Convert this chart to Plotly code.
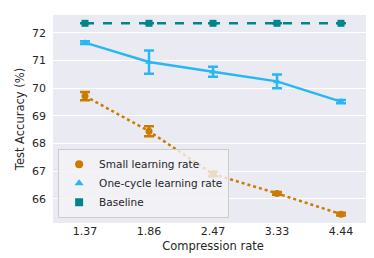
import plotly.graph_objects as go

categories = ["1.37", "1.86", "2.47", "3.33", "4.44"]
small_lr = [69.72, 68.45, 66.9, 66.2, 65.45]
small_lr_err = [0.15, 0.18, 0.08, 0.05, 0.05]
one_cycle = [71.65, 70.95, 70.6, 70.25, 69.52]
one_cycle_err = [0.05, 0.42, 0.18, 0.25, 0.06]
baseline = [72.35, 72.35, 72.35, 72.35, 72.35]
baseline_err = [0.0, 0.0, 0.0, 0.0, 0.0]

C_ORANGE = "#CC7A00"
C_BLUE = "#29B6F6"
C_TEAL = "#00868A"

x = list(range(len(categories)))
fig = go.Figure()

def add_series(y, err, color, dash, symbol, name):
    fig.add_trace(go.Scatter(
        x=x, y=y, mode="lines+markers", showlegend=False,
        line=dict(color=color, width=2.5, dash=dash),
        marker=dict(color=color, size=7, symbol=symbol),
        error_y=dict(type="data", array=err, visible=True, color=color,
                     thickness=2.5, width=5),
    ))
    fig.add_trace(go.Scatter(
        x=[None], y=[None], mode="markers", name=name,
        marker=dict(color=color, size=8, symbol=symbol),
    ))

add_series(baseline, baseline_err, C_TEAL, "dash", "square", "Baseline")
add_series(one_cycle, one_cycle_err, C_BLUE, "solid", "triangle-up", "One-cycle learning rate")
add_series(small_lr, small_lr_err, C_ORANGE, "dot", "circle", "Small learning rate")

font = "DejaVu Sans, sans-serif"
fig.update_layout(
    width=374, height=258,
    margin=dict(l=45, r=9, t=7, b=43),
    paper_bgcolor="white", plot_bgcolor="#EAEAF2",
    font=dict(family=font, size=11, color="#262626"),
    legend=dict(x=0.016, y=0.025, xanchor="left", yanchor="bottom",
                bgcolor="rgba(242,242,246,0.8)", bordercolor="#CCCCCC", borderwidth=1,
                traceorder="reversed", font=dict(size=10.5, family=font, color="#262626"),
                itemsizing="trace", tracegroupgap=0, itemwidth=30),
    xaxis=dict(range=[-0.5, 4.5], tickmode="array", tickvals=x, ticktext=categories,
               showgrid=False, zeroline=False, ticks="", ticklen=0,
               title=dict(text="Compression rate", standoff=4, font=dict(size=11.5)),
               tickfont=dict(size=11)),
    yaxis=dict(range=[65.13, 72.65], tickvals=[66, 67, 68, 69, 70, 71, 72],
               showgrid=True, gridcolor="white", gridwidth=1, zeroline=False,
               ticklabelstandoff=6,
               title=dict(text="Test Accuracy (%)", standoff=4, font=dict(size=11.5)),
               tickfont=dict(size=11)),
)

fig.write_html("out.html")
